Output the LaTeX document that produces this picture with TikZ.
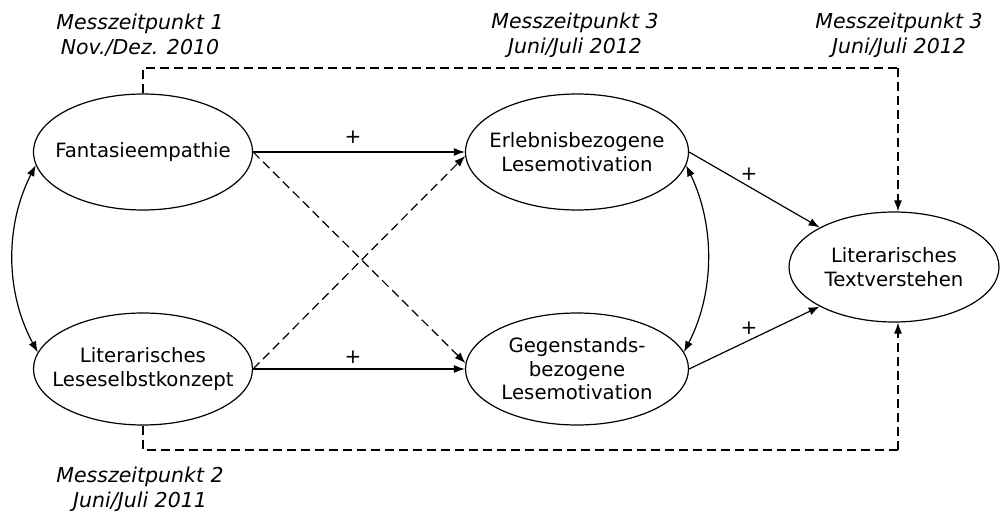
\documentclass[tikz,border=0pt]{standalone}
\usepackage{fontspec}
\setmainfont{DejaVu Sans}
\usetikzlibrary{shapes.geometric,arrows.meta}
\tikzset{
  ell/.style={draw, ellipse, line width=1.2pt, inner xsep=-18pt, inner ysep=-10pt, align=center,
    font=\fontsize{19.7}{23.5}\selectfont},
  conn/.style={line width=1.2pt, -{Latex[length=11pt,width=8pt]}},
  biconn/.style={line width=1.2pt, {Latex[length=11pt,width=8pt]}-{Latex[length=11pt,width=8pt]}},
  dconn/.style={conn, dash pattern=on 9pt off 5pt},
  dline/.style={line width=1.2pt, dash pattern=on 9pt off 5pt},
  plus/.style={font=\fontsize{20}{23}\selectfont, inner sep=0pt},
  timelabel/.style={align=center, font=\fontsize{20.5}{25}\selectfont\itshape, inner sep=0pt}
}
\begin{document}
\begin{tikzpicture}[x=1pt,y=-1pt]
\useasboundingbox (0,0) rectangle (1001,513);
% ellipses
\node[ell, minimum width=219pt, minimum height=116pt] (F) at (143,152) {Fantasieempathie};
\node[ell, minimum width=219pt, minimum height=112pt] (L) at (143,369) {Literarisches\\Leseselbstkonzept};
\node[ell, minimum width=223pt, minimum height=116pt] (E) at (577,152) {Erlebnisbezogene\\Lesemotivation};
\node[ell, minimum width=223pt, minimum height=112pt] (G) at (577,369) {Gegenstands-\\bezogene\\Lesemotivation};
\node[ell, minimum width=210pt, minimum height=110pt] (T) at (894,267) {Literarisches\\Textverstehen};
% time labels
\node[timelabel] (m1) at (140,35) {Messzeitpunkt 1\\Nov./Dez. 2010};
\node[timelabel] (m3a) at (575,35) {Messzeitpunkt 3\\Juni/Juli 2012};
\node[timelabel] (m3b) at (899,35) {Messzeitpunkt 3\\Juni/Juli 2012};
\node[timelabel] (m2) at (140,489) {Messzeitpunkt 2\\Juni/Juli 2011};
% horizontal paths
\draw[conn] (F.east) -- (E.west);
\draw[conn] (L.east) -- (G.west);
\node[plus] (p1) at (353,137) {+};
\node[plus] (p2) at (353,357) {+};
% crossing dashed paths
\draw[dconn] (F.east) -- (G.177);
\draw[dconn] (L.east) -- (E.182);
% paths to outcome
\draw[conn] (E.east) -- (T.152);
\draw[conn] (G.east) -- (T.208);
\node[plus] (p3) at (749,174) {+};
\node[plus] (p4) at (749,328) {+};
% correlations
\draw[biconn] (F.187) .. controls (5,225) and (5,292) .. (L.171);
\draw[biconn] (E.353) .. controls (715,225) and (715,292) .. (G.9);
% dashed direct paths
\coordinate (tr) at (898,68);
\coordinate (br) at (898,450);
\draw[dline] (F.north) |- (tr);
\draw[dconn] (tr) -- (tr |- T.north);
\draw[dline] (L.south) |- (br);
\draw[dconn] (br) -- (br |- T.south);
\end{tikzpicture}
\end{document}
